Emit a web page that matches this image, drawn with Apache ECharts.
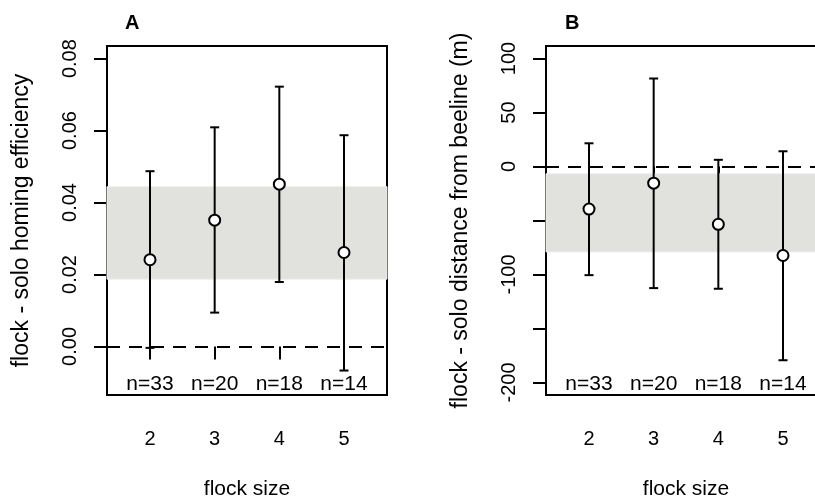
<!DOCTYPE html>
<html>
<head>
<meta charset="utf-8">
<script src="https://cdn.jsdelivr.net/npm/echarts@6/dist/echarts.min.js"></script>
<style>
  html, body { margin: 0; padding: 0; background: #fff; }
  #chart { width: 815px; height: 497px; }
</style>
</head>
<body>
<div id="chart"></div>
<script>
// data
var flockSize = [2, 3, 4, 5]
var nCounts = [33, 20, 18, 14]

// panel A: flock - solo homing efficiency
var effMean = [0.0241, 0.0351, 0.0451, 0.0261]
var effLow = [-0.0004, 0.0094, 0.0179, -0.0067]
var effHigh = [0.0487, 0.0609, 0.0722, 0.0587]
var effBand = [0.0187, 0.0444]
var effTicks = [0, 0.02, 0.04, 0.06, 0.08]

// panel B: flock - solo distance from beeline (m)
var distMean = [-39.4, -15.4, -53.5, -82.4]
var distLow = [-100.6, -112.6, -113.2, -179.4]
var distHigh = [21.5, 81.5, 6.2, 14.1]
var distBand = [-79.1, -6.7]
var distTicks = [-200, -150, -100, -50, 0, 50, 100]
var distLabels = [-200, -100, 0, 50, 100]

var FONT = 'Liberation Sans, Arial, Helvetica, sans-serif'
var chart = echarts.init(document.getElementById('chart'), null, { renderer: 'canvas' })

function xAxisFor(idx) {
  return {
    type: 'value',
    gridIndex: idx,
    min: 1.335,
    max: 5.665,
    name: 'flock size',
    nameLocation: 'middle',
    nameGap: 84,
    nameTextStyle: { fontFamily: FONT, fontSize: 21, color: '#000' },
    axisLine: { show: false },
    splitLine: { show: false },
    axisTick: { show: true, inside: false, length: 13, customValues: flockSize,
      lineStyle: { color: '#000', width: 2 } },
    axisLabel: { customValues: flockSize, margin: 34, fontFamily: FONT, fontSize: 20, color: '#000' }
  }
}

function yAxisFor(idx, min, max, ticks, labels, name, fmt) {
  return {
    type: 'value',
    gridIndex: idx,
    min: min,
    max: max,
    name: name,
    nameLocation: 'middle',
    nameRotate: 90,
    nameGap: 74,
    nameTextStyle: { fontFamily: FONT, fontSize: 23, color: '#000' },
    axisLine: { show: false },
    splitLine: { show: false },
    axisTick: { show: true, inside: false, length: 13, customValues: ticks,
      lineStyle: { color: '#000', width: 2 } },
    axisLabel: { customValues: labels, rotate: 90, margin: 27, fontFamily: FONT, fontSize: 20,
      color: '#000', formatter: fmt }
  }
}

function errorData(low, high) {
  return flockSize.map(function (x, i) { return [x, low[i], high[i]] })
}

function renderError(params, api) {
  var x = api.value(0)
  var top = api.coord([x, api.value(2)])
  var bot = api.coord([x, api.value(1)])
  var hw = 4.5
  var style = { stroke: '#000', lineWidth: 2 }
  return {
    type: 'group',
    children: [
      { type: 'line', shape: { x1: top[0], y1: top[1], x2: bot[0], y2: bot[1] }, style: style },
      { type: 'line', shape: { x1: top[0] - hw, y1: top[1], x2: top[0] + hw, y2: top[1] }, style: style },
      { type: 'line', shape: { x1: bot[0] - hw, y1: bot[1], x2: bot[0] + hw, y2: bot[1] }, style: style }
    ]
  }
}

function renderCount(params, api) {
  var p = api.coord([api.value(0), 0])
  var cs = params.coordSys
  return {
    type: 'text',
    style: {
      text: 'n=' + api.value(1),
      x: p[0],
      y: cs.y + cs.height - 11,
      align: 'center',
      verticalAlign: 'middle',
      fontFamily: FONT,
      fontSize: 21,
      fill: '#000'
    }
  }
}

function panelSeries(idx, mean, low, high, band) {
  return [{
    type: 'scatter',
    xAxisIndex: idx,
    yAxisIndex: idx,
    data: [],
    silent: true,
    markArea: {
      silent: true,
      itemStyle: { color: '#e1e1dd', borderColor: '#ededeb', borderWidth: 1 },
      data: [[{ yAxis: band[0] }, { yAxis: band[1] }]]
    },
    markLine: {
      silent: true,
      symbol: ['none', 'none'],
      label: { show: false },
      lineStyle: { color: '#000', width: 2, type: [13, 9] },
      data: [{ yAxis: 0 }]
    }
  }, {
    type: 'custom',
    xAxisIndex: idx,
    yAxisIndex: idx,
    renderItem: renderError,
    data: errorData(low, high),
    z: 3
  }, {
    type: 'scatter',
    xAxisIndex: idx,
    yAxisIndex: idx,
    symbol: 'circle',
    symbolSize: 11,
    itemStyle: { color: '#fff', borderColor: '#000', borderWidth: 2, opacity: 1 },
    data: flockSize.map(function (x, i) { return [x, mean[i]] }),
    z: 4
  }, {
    type: 'custom',
    xAxisIndex: idx,
    yAxisIndex: idx,
    renderItem: renderCount,
    data: flockSize.map(function (x, i) { return [x, nCounts[i]] }),
    z: 5
  }]
}

var option = {
  animation: false,
  backgroundColor: '#fff',
  title: [
    { text: 'A', left: 120, top: 8, textStyle: { fontFamily: FONT, fontSize: 20, fontWeight: 'bold', color: '#000' } },
    { text: 'B', left: 560, top: 8, textStyle: { fontFamily: FONT, fontSize: 20, fontWeight: 'bold', color: '#000' } }
  ],
  grid: [
    { left: 107, top: 46, width: 280, height: 349, show: true, borderColor: '#000', borderWidth: 2,
      backgroundColor: 'transparent', outerBoundsMode: 'none', containLabel: false },
    { left: 546, top: 46, width: 280, height: 349, show: true, borderColor: '#000', borderWidth: 2,
      backgroundColor: 'transparent', outerBoundsMode: 'none', containLabel: false }
  ],
  xAxis: [xAxisFor(0), xAxisFor(1)],
  yAxis: [
    yAxisFor(0, -0.0135, 0.0835, effTicks, effTicks, 'flock - solo homing efficiency',
      function (v) { return v.toFixed(2) }),
    yAxisFor(1, -211.6, 111.6, distTicks, distLabels, 'flock - solo distance from beeline (m)',
      function (v) { return String(v) })
  ],
  series: panelSeries(0, effMean, effLow, effHigh, effBand)
    .concat(panelSeries(1, distMean, distLow, distHigh, distBand))
}

chart.setOption(option)
</script>
</body>
</html>
